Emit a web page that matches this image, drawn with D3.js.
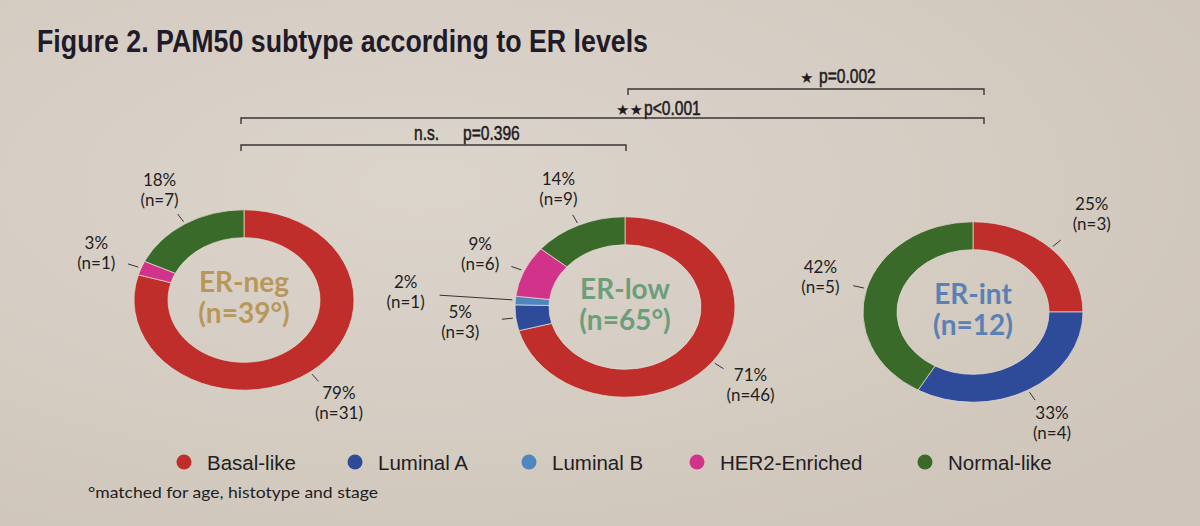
<!DOCTYPE html>
<html>
<head>
<meta charset="utf-8">
<script src="https://cdn.jsdelivr.net/npm/d3@7"></script>
<style>
  html, body { margin: 0; padding: 0; background: #d6cec4; }
  svg { display: block; }
</style>
</head>
<body>
<div id="chart"></div>
<script>
// data
const subtypes = ["Basal-like", "Luminal A", "Luminal B", "HER2-Enriched", "Normal-like"];
const subtypeColors = ["#bf2e2a", "#2d4b98", "#4f86bd", "#d2338a", "#3a6a2a"];
const groups = ["ER-neg", "ER-low", "ER-int"];
const groupN = ["(n=39°)", "(n=65°)", "(n=12)"];
const groupColors = ["#b8985a", "#6c9e7c", "#5b80b4"];
const erNegCounts = [31, 0, 0, 1, 7];
const erLowCounts = [46, 3, 1, 6, 9];
const erIntCounts = [3, 4, 0, 0, 5];
const comparisons = [
  {from: "ER-neg", to: "ER-low", star: "n.s.", p: "p=0.396"},
  {from: "ER-neg", to: "ER-int", star: "★★", p: "p<0.001"},
  {from: "ER-low", to: "ER-int", star: "★", p: "p=0.002"},
];

const width = 1200, height = 526;
const svg = d3.select("#chart").append("svg")
  .attr("width", width).attr("height", height);

// background, photo of a slide
const defs = svg.append("defs");
const bg = defs.append("radialGradient").attr("id", "bg")
  .attr("cx", "35%").attr("cy", "35%").attr("r", "80%");
bg.append("stop").attr("offset", "0%").attr("stop-color", "#dcd5cc");
bg.append("stop").attr("offset", "100%").attr("stop-color", "#cfc5ba");
svg.append("rect").attr("width", width).attr("height", height).attr("fill", "url(#bg)");

svg.append("text")
  .attr("x", 37).attr("y", 52)
  .attr("textLength", 611).attr("lengthAdjust", "spacingAndGlyphs")
  .style("font-family", "'Liberation Sans Narrow', 'Liberation Sans', sans-serif")
  .style("font-weight", "bold").style("font-size", "32px")
  .attr("fill", "#1f1b29")
  .text("Figure 2. PAM50 subtype according to ER levels");

// donut layout
const centerX = d3.scaleOrdinal().domain(groups).range([244, 625, 973]);
const centerY = d3.scaleOrdinal().domain(groups).range([300, 307, 312]);
const R = 110, r = 76, squash = 0.82;

const pie = d3.pie().sort(null).value(d => d.n);
const arc = d3.arc().innerRadius(r).outerRadius(R);
const pt = (a, rad) => [rad * Math.sin(a), -rad * squash * Math.cos(a)];

const allCounts = [erNegCounts, erLowCounts, erIntCounts];
const labelFont = "Lato, 'Open Sans', sans-serif";

groups.forEach((g, gi) => {
  const counts = allCounts[gi];
  const total = d3.sum(counts);
  const data = subtypes.map((s, i) => ({s, i, n: counts[i]}));
  const grp = svg.append("g")
    .attr("transform", `translate(${centerX(g)},${centerY(g)})`);

  grp.append("g").attr("transform", `scale(1,${squash})`)
    .selectAll("path").data(pie(data).filter(d => d.data.n > 0)).join("path")
    .attr("d", arc)
    .attr("fill", d => subtypeColors[d.data.i])
    .attr("stroke", "#e4dcd2").attr("stroke-width", 0.8);

  // slice labels
  pie(data).filter(d => d.data.n > 0).forEach(d => {
    let mid = (d.startAngle + d.endAngle) / 2;
    let lr = 158, l0 = R + 3, l1 = R + 14;
    if (g === "ER-low" && d.data.s === "Luminal B") {
      lr = 220; l1 = R + 76; mid = mid + 0.005;
    }
    if (g === "ER-low" && d.data.s === "Luminal A") { lr = 166; }
    if (g === "ER-int" && d.data.s === "Basal-like") { lr = 168; }
    const [ax, ay] = pt(mid, l0), [bx, by] = pt(mid, l1);
    grp.append("line")
      .attr("x1", ax).attr("y1", ay).attr("x2", bx).attr("y2", by)
      .attr("stroke", "#333").attr("stroke-width", 1);
    const [tx, ty] = pt(mid, lr);
    const t = grp.append("text")
      .attr("text-anchor", "middle")
      .style("font-family", labelFont).style("font-size", "17px")
      .attr("fill", "#1e1e22");
    t.append("tspan").attr("x", tx).attr("y", ty - 5)
      .text(Math.round(d.data.n / total * 100) + "%");
    t.append("tspan").attr("x", tx).attr("y", ty + 15)
      .text(`(n=${d.data.n})`);
  });

  // centre text
  const ct = grp.append("text").attr("text-anchor", "middle")
    .style("font-family", labelFont).style("font-weight", "bold")
    .style("font-size", "28px").attr("fill", groupColors[gi]);
  ct.append("tspan").attr("x", 0).attr("y", -8).text(g);
  ct.append("tspan").attr("x", 0).attr("y", 23).text(groupN[gi]);
});

// significance brackets
const bracketY = {"n.s.": 145, "★★": 118, "★": 89};
const bracketX = {"ER-neg": 241, "ER-low": 626, "ER-int": 984};
const sansFont = "'Liberation Sans', Arial, sans-serif";
const labelPos = {"n.s.": [414, 140], "★★": [616, 115], "★": [800, 83]};

function narrowText(x, y, str, size) {
  return svg.append("text")
    .attr("transform", `translate(${x},${y}) scale(0.78,1)`)
    .style("font-family", sansFont).style("font-size", size + "px")
    .attr("fill", "#1f1b22").attr("stroke", "#1f1b22").attr("stroke-width", 0.5)
    .text(str);
}

comparisons.forEach(c => {
  const y = bracketY[c.star];
  const x0 = c.from === "ER-low" ? 628 : bracketX[c.from];
  const x1 = bracketX[c.to];
  svg.append("path")
    .attr("d", `M${x0},${y + 6}V${y}H${x1}V${y + 6}`)
    .attr("fill", "none").attr("stroke", "#3a3638").attr("stroke-width", 1.4);
  const [lx, ly] = labelPos[c.star];
  if (c.star === "n.s.") {
    narrowText(lx, ly, c.star, 20);
    narrowText(lx + 49, ly, c.p, 20);
  } else {
    svg.append("text").attr("x", lx).attr("y", ly)
      .style("font-family", "'DejaVu Sans', sans-serif").style("font-size", "15px")
      .attr("fill", "#1f1b22").text(c.star);
    narrowText(lx + (c.star === "★" ? 19 : 28), ly, c.p, 20);
  }
});

// legend
const legendX = [184, 355, 529, 697, 925];
const legend = svg.append("g");
subtypes.forEach((s, i) => {
  legend.append("circle")
    .attr("cx", legendX[i]).attr("cy", 462).attr("r", 7.5)
    .attr("fill", subtypeColors[i]);
  legend.append("text")
    .attr("x", legendX[i] + 23).attr("y", 470)
    .style("font-family", sansFont).style("font-size", "20.5px")
    .attr("fill", "#221e24")
    .text(s);
});

svg.append("text")
  .attr("x", 88).attr("y", 498)
  .attr("textLength", 290).attr("lengthAdjust", "spacingAndGlyphs")
  .style("font-family", labelFont).style("font-size", "15px")
  .attr("fill", "#221e24")
  .text("°matched for age, histotype and stage");
</script>
</body>
</html>
